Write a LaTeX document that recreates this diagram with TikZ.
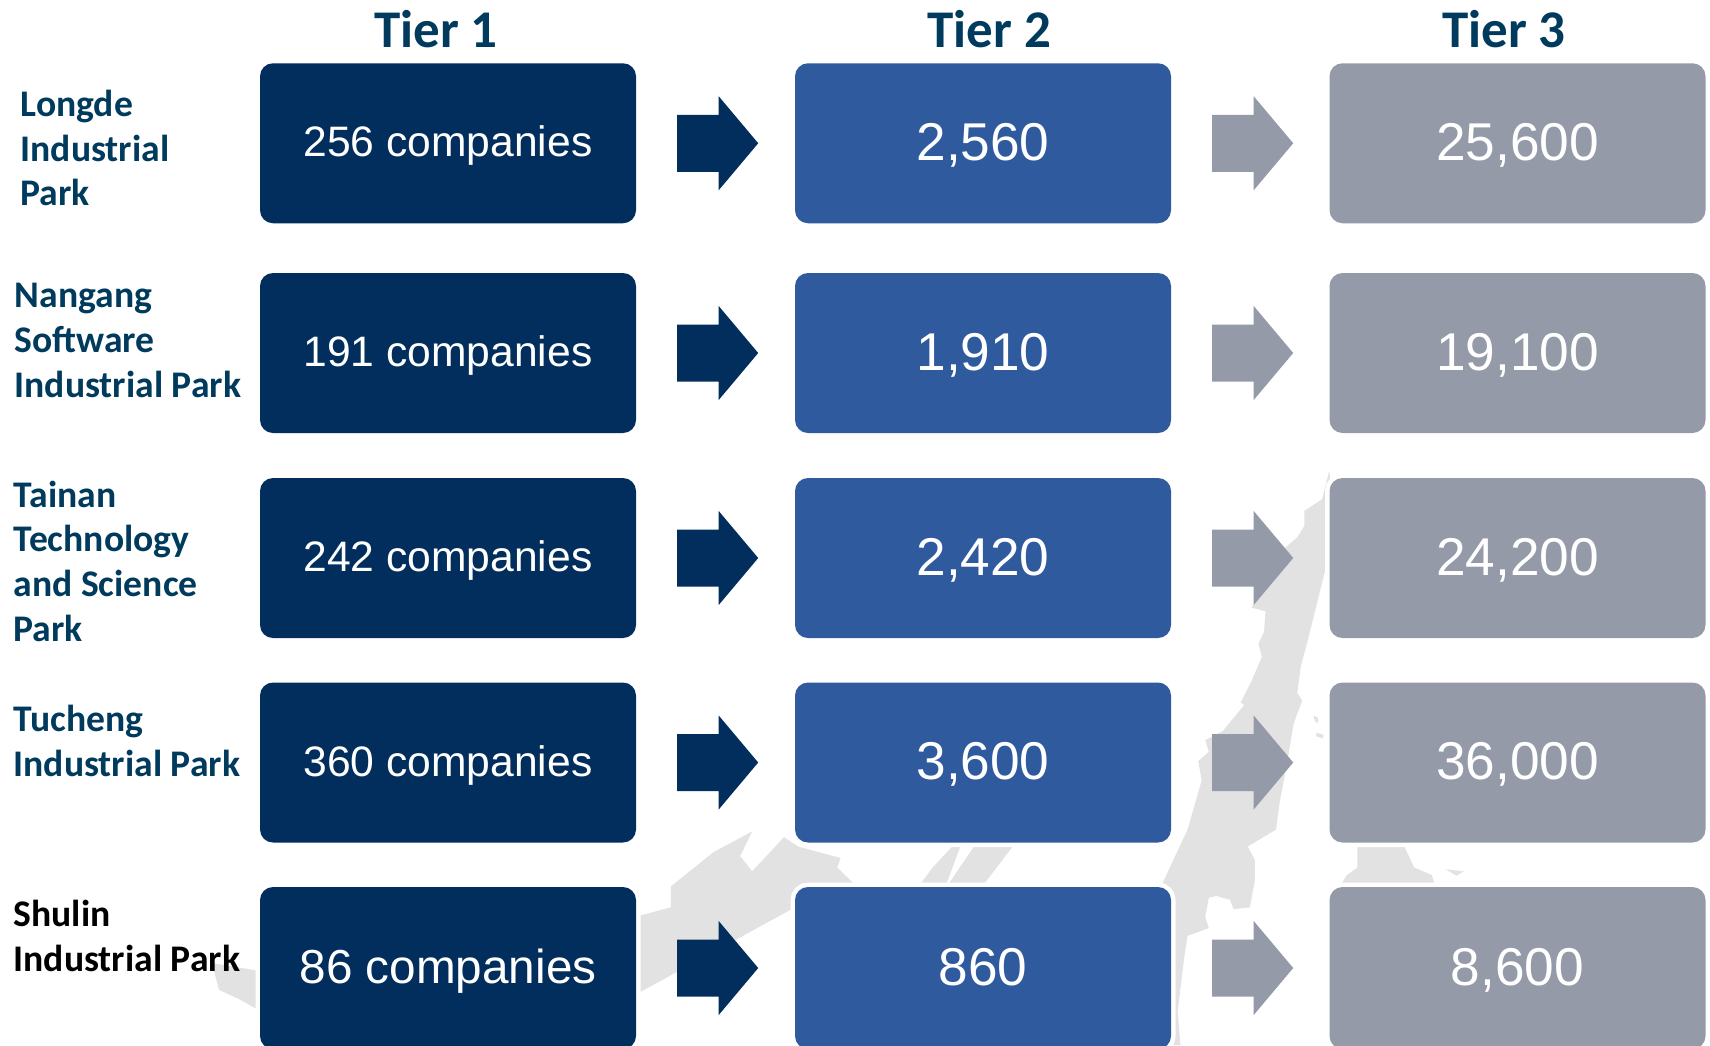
\documentclass[tikz,border=0pt]{standalone}
\usepackage{fontspec}
\setmainfont{Liberation Sans}
\newfontfamily\labelfont{Carlito}
\usetikzlibrary{calc}
\definecolor{tierA}{HTML}{022E5E}
\definecolor{tierB}{HTML}{2F5A9E}
\definecolor{tierC}{HTML}{959AA9}
\definecolor{teal}{HTML}{003A5C}
\definecolor{mapgray}{HTML}{E2E2E2}
\tikzset{
  tierbox/.style={rounded corners=13pt,minimum width=376pt,minimum height=160pt,inner sep=0pt,text=white,
    preaction={draw=white,line width=9pt}},
  boxA/.style={tierbox,fill=tierA,font=\fontsize{42.6}{50}\selectfont,text height=30.7pt,text depth=3.4pt},
  boxAbig/.style={boxA,font=\fontsize{47.7}{55}\selectfont,text height=34.3pt,text depth=3.8pt},
  boxB/.style={tierbox,fill=tierB,font=\fontsize{53.2}{60}\selectfont,text height=38.2pt,text depth=4.2pt},
  boxC/.style={boxB,fill=tierC},
  tierhead/.style={text=teal,font=\labelfont\bfseries\fontsize{53}{58}\selectfont},
  parklabel/.style={anchor=west,align=left,inner sep=0pt,text=teal,font=\labelfont\bfseries\fontsize{37.6}{44.7}\selectfont},
  land/.style={fill=mapgray,draw=none}
}
\newcommand{\blockarrow}[2]{% from box #1, colour #2
  \fill[#2] ($(#1.east)+(41,28.5)$) -- ($(#1.east)+(82.5,28.5)$) -- ($(#1.east)+(82.5,47)$)
    -- ($(#1.east)+(122,0)$) -- ($(#1.east)+(82.5,-47)$) -- ($(#1.east)+(82.5,-28.5)$)
    -- ($(#1.east)+(41,-28.5)$) -- cycle;
}
\begin{document}
\begin{tikzpicture}[x=1pt,y=-1pt]
\useasboundingbox (0,0) rectangle (1710,1045);
% map, behind everything
\begin{scope}[shift={(600,450)},x={(0.7079pt,0pt)},y={(0pt,-0.3795pt)}]
  \fill[land] (1030,55) -- (1020,130) -- (995,160) -- (995,200) -- (985,230) -- (960,270) -- (945,350) -- (920,415)
    -- (940,425) -- (938,480) -- (930,510) -- (935,545) -- (920,610) -- (905,665) -- (910,672) -- (880,740)
    -- (855,765) -- (860,795) -- (845,820) -- (850,870) -- (830,1000) -- (795,1140) -- (790,1300) -- (810,1568)
    -- (820,1568) -- (816,1480) -- (825,1340) -- (830,1280) -- (860,1260) -- (855,1230) -- (860,1180) -- (870,1175)
    -- (890,1185) -- (895,1210) -- (918,1205) -- (925,1135) -- (925,1080) -- (915,1045) -- (955,1000) -- (960,930)
    -- (970,830) -- (980,720) -- (992,660) -- (985,640) -- (990,570) -- (1000,500) -- (1020,350) -- (1040,200) -- cycle;
  \fill[land] (0,1250) -- (60,1225) -- (100,1205) -- (100,1150) -- (160,1060) -- (215,1005) -- (198,1070) -- (215,1110)
    -- (240,1060) -- (260,1020) -- (280,1045) -- (340,1075) -- (335,1100) -- (360,1145) -- (300,1180) -- (60,1425) -- (0,1480) -- cycle;
  \fill[land] (450,1150) -- (470,1100) -- (500,1040) -- (510,1040) -- (488,1150) -- cycle;
  \fill[land] (490,1150) -- (530,1040) -- (585,1040) -- (540,1150) -- cycle;
  \fill[land] (1070,1040) -- (1135,1040) -- (1150,1100) -- (1175,1120) -- (1180,1150) -- (1045,1150) -- (1055,1120) -- (1070,1100) -- cycle;
  \fill[land] (1008,700) -- (1014,705) -- (1014,720) -- (1010,715) -- cycle;
  \fill[land] (1012,745) -- (1022,750) -- (1022,760) -- (1012,755) -- cycle;
  \fill[land] (1195,1105) -- (1220,1110) -- (1210,1122) -- cycle;
\end{scope}
\fill[land] (212,963) -- (254,970) -- (262,970) -- (262,1012) -- (237,998) -- (219,990) -- cycle;
% rows
\foreach \r/\yy/\ta/\tb/\tc in {1/143.25/{256 companies}/{2,560}/{25,600},
    2/353/{191 companies}/{1,910}/{19,100},
    3/558/{242 companies}/{2,420}/{24,200},
    4/762.5/{360 companies}/{3,600}/{36,000}}{
  \node[boxA] (a\r) at (448,\yy) {\ta};
  \node[boxB] (b\r) at (983,\yy) {\tb};
  \node[boxC] (c\r) at (1517.5,\yy) {\tc};
}
\node[boxAbig,minimum height=162pt] (a5) at (448,968) {86 companies};
\node[boxB,minimum height=162pt] (b5) at (983,968) {860};
\node[boxC,minimum height=162pt] (c5) at (1517.5,968) {8,600};
\foreach \r in {1,...,5}{
  \blockarrow{a\r}{tierA}
  \blockarrow{b\r}{tierC}
}
% headers
\node[tierhead] (h1) at (436,29.5) {Tier 1};
\node[tierhead] (h2) at (989.5,29.5) {Tier 2};
\node[tierhead] (h3) at (1504,29.5) {Tier 3};
% park labels
\node[parklabel] (p1) at (20.5,148) {Longde\\Industrial\\Park};
\node[parklabel] (p2) at (14.5,340.5) {Nangang\\Software\\Industrial Park};
\node[parklabel] (p3) at (13.5,561) {Tainan\\Technology\\and Science\\Park};
\node[parklabel] (p4) at (13.5,741) {Tucheng\\Industrial Park};
\node[parklabel,text=black] (p5) at (13.5,936) {Shulin\\Industrial Park};
\end{tikzpicture}
\end{document}
